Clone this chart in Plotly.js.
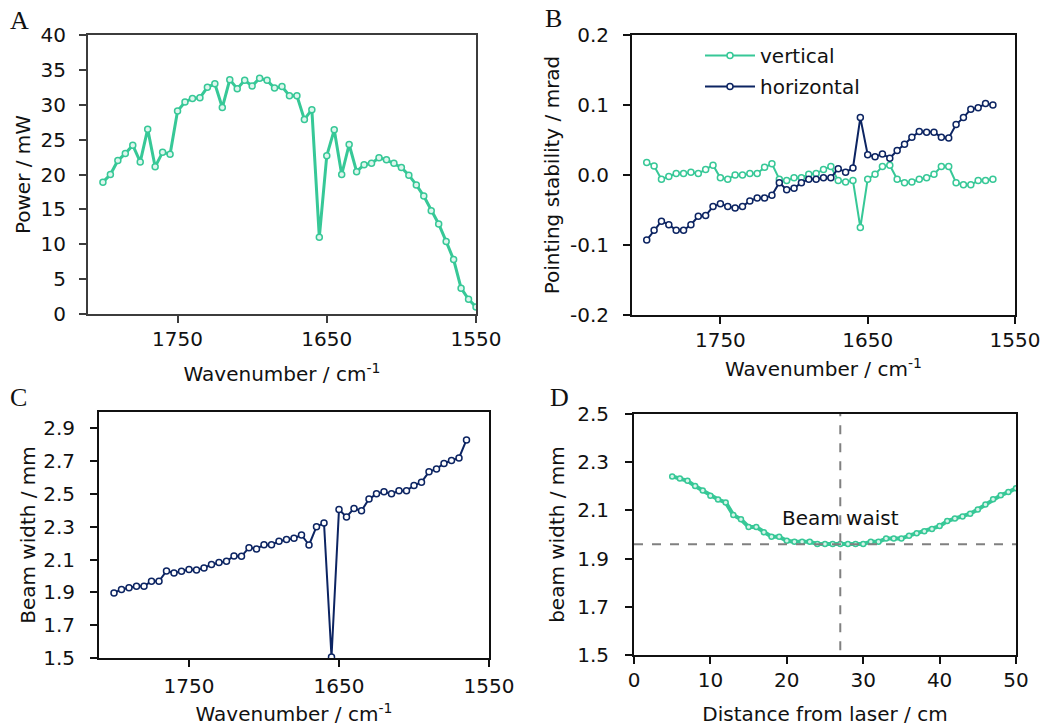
<!DOCTYPE html>
<html>
<head>
<meta charset="utf-8">
<script src="https://cdn.plot.ly/plotly-3.0.1.min.js"></script>
<style>html,body{margin:0;padding:0;background:#fff;}#chart{width:1044px;height:728px;}</style>
</head>
<body>
<div id="chart"></div>
<script>
// ---- Data ----
const wavenumberA = [1800,1795,1790,1785,1780,1775,1770,1765,1760,1755,1750,1745,1740,1735,1730,1725,1720,1715,1710,1705,1700,1695,1690,1685,1680,1675,1670,1665,1660,1655,1650,1645,1640,1635,1630,1625,1620,1615,1610,1605,1600,1595,1590,1585,1580,1575,1570,1565,1560,1555,1550];
const powerMW = [18.9,20.0,22.0,23.0,24.2,21.8,26.5,21.1,23.2,22.9,29.1,30.4,30.9,31.0,32.5,33.0,29.6,33.6,32.3,33.5,32.7,33.8,33.5,32.4,32.6,31.3,31.3,27.9,29.3,11.0,22.7,26.4,20.0,24.3,20.4,21.4,21.6,22.4,22.1,21.6,21.0,19.9,18.5,16.9,14.8,12.9,10.4,7.8,3.7,2.1,1.0];

const wavenumberB = [1800,1795,1790,1785,1780,1775,1770,1765,1760,1755,1750,1745,1740,1735,1730,1725,1720,1715,1710,1705,1700,1695,1690,1685,1680,1675,1670,1665,1660,1655,1650,1645,1640,1635,1630,1625,1620,1615,1610,1605,1600,1595,1590,1585,1580,1575,1570,1565];
const verticalMrad = [0.018,0.013,-0.006,-0.002,0.002,0.002,0.004,0.002,0.008,0.014,-0.004,-0.006,0.000,0.000,0.002,0.002,0.011,0.016,-0.006,-0.008,-0.004,-0.004,0.001,0.002,0.008,0.012,-0.008,-0.010,-0.008,-0.075,-0.006,0.001,0.012,0.014,-0.006,-0.011,-0.010,-0.006,-0.004,0.001,0.012,0.012,-0.011,-0.014,-0.014,-0.008,-0.008,-0.006];
const horizontalMrad = [-0.093,-0.079,-0.066,-0.071,-0.079,-0.079,-0.071,-0.059,-0.058,-0.045,-0.041,-0.045,-0.047,-0.045,-0.037,-0.033,-0.033,-0.029,-0.011,-0.021,-0.019,-0.011,-0.006,-0.006,-0.004,-0.004,0.009,0.004,0.010,0.082,0.029,0.026,0.030,0.024,0.035,0.044,0.054,0.062,0.061,0.061,0.054,0.053,0.072,0.082,0.094,0.096,0.102,0.100];
const stabilityTickVals = [-0.2, -0.1, 0, 0.1, 0.2];
const stabilityTickText = ['-0.2', '-0.1', '0.0', '0.1', '0.2'];

const wavenumberC = wavenumberB;
const beamWidthC = [1.897,1.918,1.928,1.938,1.938,1.968,1.968,2.031,2.019,2.029,2.039,2.037,2.049,2.070,2.082,2.090,2.122,2.120,2.173,2.165,2.191,2.191,2.212,2.222,2.230,2.250,2.189,2.301,2.323,1.506,2.406,2.360,2.412,2.398,2.469,2.501,2.514,2.501,2.520,2.520,2.552,2.572,2.635,2.653,2.686,2.704,2.720,2.830];

const distanceCm = [5,6,7,8,9,10,11,12,13,14,15,16,17,18,19,20,21,22,23,24,25,26,27,28,29,30,31,32,33,34,35,36,37,38,39,40,41,42,43,44,45,46,47,48,49,50];
const beamWidthD = [2.241,2.232,2.223,2.201,2.183,2.161,2.145,2.133,2.081,2.063,2.031,2.031,2.009,1.991,1.991,1.974,1.970,1.970,1.970,1.961,1.961,1.961,1.961,1.961,1.961,1.961,1.970,1.970,1.983,1.983,1.983,1.995,2.005,2.013,2.023,2.035,2.056,2.066,2.075,2.086,2.104,2.124,2.146,2.163,2.176,2.192];
const waistPosition = 27;
const waistWidth = 1.96;

const wnTicks = [1750, 1650, 1550];

// ---- Style ----
const GREEN = '#37c897';
const NAVY = '#0c2462';
const FONT = 'DejaVu Sans, sans-serif';
const FS = 20;

function axis(domain, anchor, extra) {
  return Object.assign({
    domain: domain, anchor: anchor,
    showgrid: false, zeroline: false,
    showline: true, mirror: true, linecolor: '#111', linewidth: 2,
    ticks: 'outside', ticklen: 7, tickwidth: 2, tickcolor: '#111',
    tickfont: {family: FONT, size: FS, color: '#111'}
  }, extra);
}
function title(text, standoff) {
  return {text: text, font: {family: FONT, size: FS, color: '#111'}, standoff: standoff};
}
const W = 1044, H = 728;
const dx = (a, b) => [a / W, b / W];
const dy = (top, bot) => [1 - bot / H, 1 - top / H];

const traces = [
  {x: wavenumberA, y: powerMW, xaxis: 'x', yaxis: 'y', mode: 'lines+markers', showlegend: false,
   line: {color: GREEN, width: 3}, marker: {symbol: 'circle', size: 6, color: '#dff6ee', line: {color: GREEN, width: 1.5}}},
  {x: wavenumberB, y: verticalMrad, xaxis: 'x2', yaxis: 'y2', mode: 'lines+markers', name: 'vertical', legendgroup: 'v',
   line: {color: GREEN, width: 2}, marker: {symbol: 'circle', size: 6, color: '#ffffff', line: {color: GREEN, width: 1.5}}},
  {x: wavenumberB, y: horizontalMrad, xaxis: 'x2', yaxis: 'y2', mode: 'lines+markers', name: 'horizontal', legendgroup: 'h',
   line: {color: NAVY, width: 2}, marker: {symbol: 'circle', size: 6, color: '#ffffff', line: {color: NAVY, width: 1.5}}},
  {x: wavenumberC, y: beamWidthC, xaxis: 'x3', yaxis: 'y3', mode: 'lines+markers', showlegend: false,
   line: {color: NAVY, width: 2}, marker: {symbol: 'circle', size: 6, color: '#ffffff', line: {color: NAVY, width: 1.5}}},
  {x: distanceCm, y: beamWidthD, xaxis: 'x4', yaxis: 'y4', mode: 'lines+markers', showlegend: false,
   line: {color: GREEN, width: 4}, marker: {symbol: 'circle', size: 5, color: '#d8f4ea', line: {color: GREEN, width: 1.5}}}
];

const xStand = -1, yStand = 11;
const layout = {
  width: W, height: H,
  margin: {l: 0, r: 0, t: 0, b: 0},
  paper_bgcolor: '#fff', plot_bgcolor: '#fff',
  font: {family: FONT, size: FS, color: '#111'},
  showlegend: true,
  legend: {x: 700 / W, y: 1 - 36 / H, xanchor: 'left', yanchor: 'top', bgcolor: 'rgba(0,0,0,0)',
           font: {family: FONT, size: FS, color: '#111'}, tracegroupgap: 2, itemwidth: 50},
  xaxis: axis(dx(88, 476), 'y', {range: [1810, 1550], tickvals: wnTicks, linecolor: '#3c3c3c', tickcolor: '#3c3c3c',
    ticklabelstandoff: xStand, title: title('Wavenumber / cm<sup>-1</sup>', 17)}),
  yaxis: axis(dy(35, 314), 'x', {range: [0, 40], dtick: 5, tick0: 0, linecolor: '#3c3c3c', tickcolor: '#3c3c3c',
    ticklabelstandoff: yStand - 2, title: title('Power / mW', 5)}),
  xaxis2: axis(dx(632, 1015), 'y2', {range: [1810, 1550], tickvals: wnTicks,
    ticklabelstandoff: xStand, title: title('Wavenumber / cm<sup>-1</sup>', 11)}),
  yaxis2: axis(dy(35, 315), 'x2', {range: [-0.2, 0.2], tickvals: stabilityTickVals, ticktext: stabilityTickText,
    ticklabelstandoff: yStand - 1, title: title('Pointing stability / mrad', 5)}),
  xaxis3: axis(dx(99, 489), 'y3', {range: [1810, 1550], tickvals: wnTicks,
    ticklabelstandoff: xStand + 3, title: title('Wavenumber / cm<sup>-1</sup>', 10)}),
  yaxis3: axis(dy(412, 658), 'x3', {range: [1.5, 3.0], tick0: 1.5, dtick: 0.2, tickformat: '.1f',
    ticklabelstandoff: yStand, title: title('Beam width / mm', 2)}),
  xaxis4: axis(dx(634, 1016), 'y4', {range: [0, 50], dtick: 10, tick0: 0,
    ticklabelstandoff: xStand, title: title('Distance from laser / cm', 16)}),
  yaxis4: axis(dy(414, 655), 'x4', {range: [1.5, 2.5], dtick: 0.2, tick0: 1.5, tickformat: '.1f',
    ticklabelstandoff: yStand + 1, title: title('beam width / mm', 7)}),
  shapes: [
    {type: 'line', xref: 'x4', yref: 'y4', x0: waistPosition, x1: waistPosition, y0: 1.52, y1: 2.5,
     line: {color: '#808080', width: 2, dash: 'dash'}},
    {type: 'line', xref: 'x4', yref: 'y4', x0: 0, x1: 50, y0: waistWidth, y1: waistWidth,
     line: {color: '#808080', width: 2, dash: 'dash'}}
  ],
  annotations: [
    {text: 'Beam waist', xref: 'x4', yref: 'y4', x: waistPosition, y: 2.07, showarrow: false,
     font: {family: FONT, size: FS, color: '#111'}, bgcolor: 'rgba(0,0,0,0)'},
    {text: 'A', xref: 'paper', yref: 'paper', x: 8 / W, y: 1 - 4 / H, xanchor: 'left', yanchor: 'top', showarrow: false,
     font: {family: 'Liberation Serif, serif', size: 26, color: '#111'}},
    {text: 'B', xref: 'paper', yref: 'paper', x: 543 / W, y: 1 - 2 / H, xanchor: 'left', yanchor: 'top', showarrow: false,
     font: {family: 'Liberation Serif, serif', size: 26, color: '#111'}},
    {text: 'C', xref: 'paper', yref: 'paper', x: 8 / W, y: 1 - 381 / H, xanchor: 'left', yanchor: 'top', showarrow: false,
     font: {family: 'Liberation Serif, serif', size: 26, color: '#111'}},
    {text: 'D', xref: 'paper', yref: 'paper', x: 548 / W, y: 1 - 381 / H, xanchor: 'left', yanchor: 'top', showarrow: false,
     font: {family: 'Liberation Serif, serif', size: 26, color: '#111'}}
  ]
};

Plotly.newPlot('chart', traces, layout, {displayModeBar: false, staticPlot: true});
</script>
</body>
</html>
